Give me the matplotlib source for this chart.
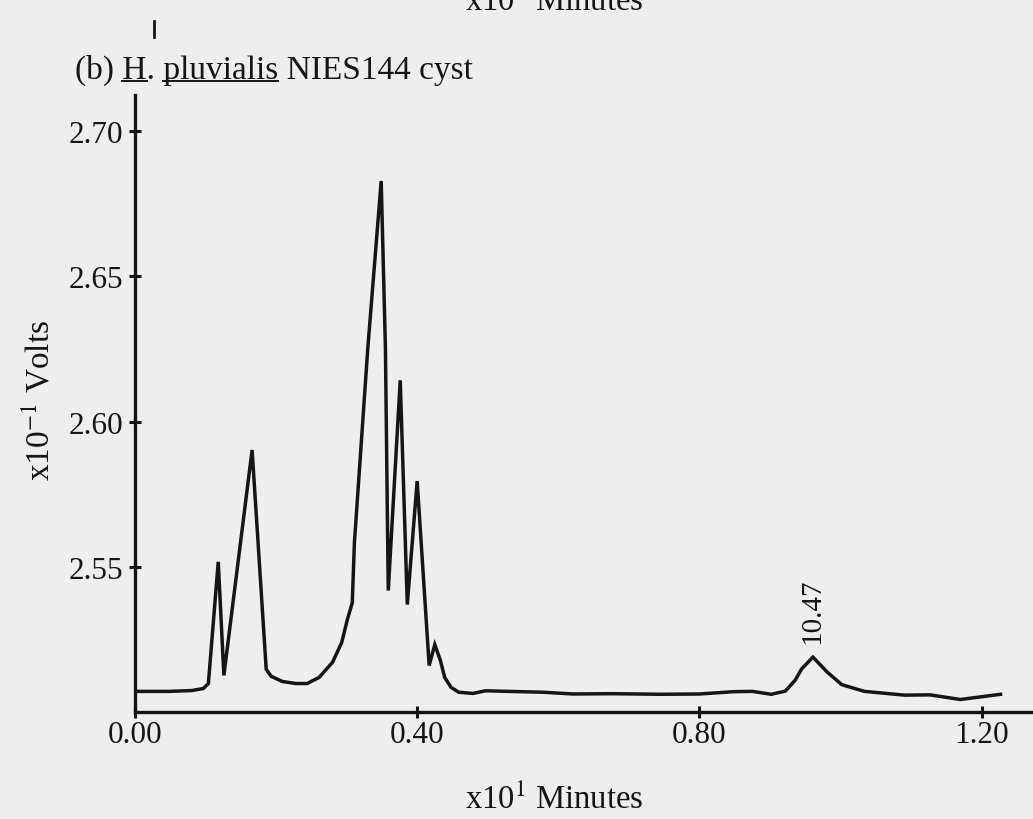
import matplotlib
matplotlib.use("Agg")
import matplotlib.pyplot as plt
from matplotlib.lines import Line2D

# chromatogram trace (x10 min, x10^-1 V)
time = [0.0, 0.049, 0.081, 0.097, 0.104, 0.118, 0.126, 0.166, 0.186, 0.193,
        0.209, 0.228, 0.244, 0.261, 0.280, 0.293, 0.301, 0.308, 0.311, 0.330,
        0.349, 0.355, 0.359, 0.376, 0.386, 0.400, 0.417, 0.425, 0.433, 0.439,
        0.448, 0.459, 0.479, 0.497, 0.579, 0.621, 0.676, 0.745, 0.800, 0.849,
        0.875, 0.902, 0.922, 0.936, 0.945, 0.961, 0.981, 1.002, 1.034, 1.091,
        1.127, 1.170, 1.227]
volts = [2.5071, 2.5071, 2.5074, 2.5081, 2.5098, 2.5517, 2.5126, 2.5902, 2.5147, 2.5123,
         2.5105, 2.5098, 2.5098, 2.5119, 2.5171, 2.5239, 2.5318, 2.5376, 2.5582, 2.6252,
         2.6828, 2.6252, 2.5418, 2.6142, 2.5370, 2.5795, 2.5160, 2.5232, 2.5177, 2.5119,
         2.5085, 2.5068, 2.5064, 2.5073, 2.5068, 2.5062, 2.5063, 2.5061, 2.5062, 2.5070,
         2.5071, 2.5061, 2.5072, 2.5110, 2.5148, 2.5189, 2.5138, 2.5094, 2.5071, 2.5058,
         2.5059, 2.5043, 2.5061]

x_ticks = [0.0, 0.4, 0.8, 1.2]
x_labels = ["0.00", "0.40", "0.80", "1.20"]
y_ticks = [2.55, 2.60, 2.65, 2.70]
y_labels = ["2.55", "2.60", "2.65", "2.70"]
peak_label = "10.47"
peak_idx = 45

title_parts = ["(b) ", "H", ". ", "pluvialis", " NIES144 cyst"]

W, H = 1033, 820
paper = "#eeeeec"
ink = "#151515"

plt.rcParams["font.family"] = ["Liberation Serif", "DejaVu Serif"]
plt.rcParams["mathtext.fontset"] = "stix"

fig = plt.figure(figsize=(W / 100, H / 100), dpi=100, facecolor=paper)
ax = fig.add_axes([135 / W, 107 / H, (W - 135) / W, 617 / H])
ax.set_facecolor(paper)

ax.plot(time, volts, color=ink, linewidth=2.5, solid_joinstyle="miter")

ax.set_xlim(0, 1.273)
ax.set_ylim(2.50, 2.7124)
ax.set_xticks(x_ticks)
ax.set_xticklabels(x_labels)
ax.set_yticks(y_ticks)
ax.set_yticklabels(y_labels)

for side in ["top", "right"]:
    ax.spines[side].set_visible(False)
for side in ["left", "bottom"]:
    ax.spines[side].set_linewidth(2.4)
    ax.spines[side].set_color(ink)

ax.tick_params(axis="both", direction="inout", length=9, width=2.2, colors=ink,
               labelsize=22.5, labelcolor=ink)
ax.tick_params(axis="x", pad=1)
ax.tick_params(axis="y", pad=4)

# retention time label over the late peak
ax.annotate(peak_label, xy=(time[peak_idx], volts[peak_idx]), xytext=(0, 10),
            textcoords="offset points", rotation=90, ha="center", va="bottom",
            fontsize=21, color=ink)

# axis titles
fig.text(554 / W, 1 - 800 / H, "x10$^{1}$ Minutes", ha="center", va="center",
         fontsize=23.5, color=ink)
fig.text(40 / W, 1 - 400 / H, "x10$^{-1}$ Volts", ha="center", va="center",
         rotation=90, fontsize=24, color=ink)

# bottom of the panel above, cut off by the page edge
fig.text(554 / W, 1 - 11 / H, "x10$^{1}$ Minutes", ha="center", va="baseline",
         fontsize=23.5, color=ink)
fig.add_artist(Line2D([154 / W, 154 / W], [1 - 22 / H, 1 - 38 / H],
                      color=ink, linewidth=2, transform=fig.transFigure))

# panel title with underlined genus/species
tx, ty = 75, 79
fs_title = 24
full = "".join(title_parts)
fig.text(tx / W, 1 - ty / H, full, ha="left", va="baseline", fontsize=fs_title, color=ink)

fig.canvas.draw()
renderer = fig.canvas.get_renderer()


def text_width(s):
    t = fig.text(0, 0, s, fontsize=fs_title)
    w = t.get_window_extent(renderer).width
    t.remove()
    return w


for k in [1, 3]:
    upto = "".join(title_parts[:k + 1])
    end = tx + text_width(upto)
    start = end - text_width(title_parts[k])
    fig.add_artist(Line2D([start / W, end / W], [1 - (ty + 3) / H] * 2,
                          color=ink, linewidth=1.4, transform=fig.transFigure))

fig.savefig("out.png", dpi=100, facecolor=paper)
